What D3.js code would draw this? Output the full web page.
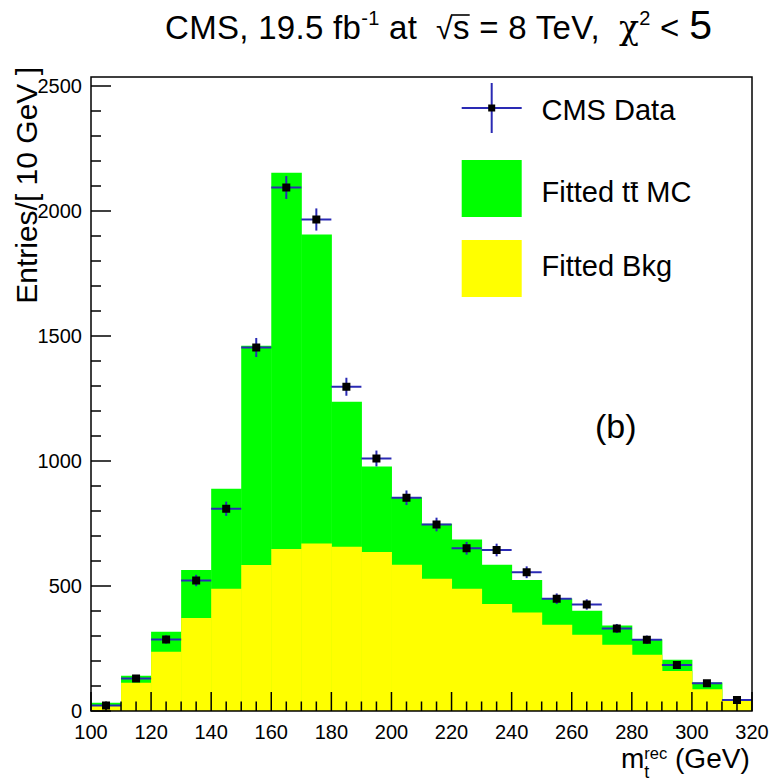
<!DOCTYPE html>
<html><head><meta charset="utf-8">
<script src="https://cdn.jsdelivr.net/npm/d3@7"></script>
<style>
html,body{margin:0;padding:0;background:#fff;}
text{font-family:"Liberation Sans",Arial,Helvetica,sans-serif;fill:#000;white-space:pre;}
</style></head>
<body><svg id="c" width="782" height="780"></svg>
<script>
// ---- data ----
const binLow = [100,110,120,130,140,150,160,170,180,190,200,210,220,230,240,250,260,270,280,290,300,310];
const binWidth = 10;
const bkg   = [21,113,237,372,489,584,648,670,657,636,585,529,489,428,394,345,305,265,225,160,87,41];
const ttbar = [12,28,80,192,400,877,1505,1236,580,342,270,220,197,157,130,105,96,77,62,45,27,3];
const data  = [22,130,286,522,809,1454,2094,1966,1297,1010,853,746,651,644,555,449,426,330,285,184,111,44];
const xTicks = [100,120,140,160,180,200,220,240,260,280,300,320];
const yTicks = [0,500,1000,1500,2000,2500];

const svg = d3.select("#c");
const L=91, R=752, T=77, B=711;
const x = d3.scaleLinear().domain([100,320]).range([L,R]);
const y = d3.scaleLinear().domain([0,2536]).range([B,T]);

const g = svg.append("g");
svg.append("clipPath").attr("id","pc").append("rect")
  .attr("x",L).attr("y",T).attr("width",R-L).attr("height",B-T);
const plot = g.append("g").attr("clip-path","url(#pc)");

// total (green) then background (yellow)
plot.selectAll("rect.tot").data(binLow).join("rect").attr("class","tot")
  .attr("x",d=>x(d)).attr("width",d=>x(d+binWidth)-x(d)+0.5)
  .attr("y",(d,i)=>y(bkg[i]+ttbar[i])).attr("height",(d,i)=>B-y(bkg[i]+ttbar[i]))
  .attr("fill","#00ff00");
plot.selectAll("rect.bkg").data(binLow).join("rect").attr("class","bkg")
  .attr("x",d=>x(d)).attr("width",d=>x(d+binWidth)-x(d)+0.5)
  .attr("y",(d,i)=>y(bkg[i])).attr("height",(d,i)=>B-y(bkg[i]))
  .attr("fill","#ffff00");

// data points
const errCol = "#2a2ab4";
const pts = plot.selectAll("g.pt").data(binLow).join("g").attr("class","pt");
pts.append("line").attr("x1",d=>x(d)).attr("x2",d=>x(d+binWidth))
  .attr("y1",(d,i)=>y(data[i])).attr("y2",(d,i)=>y(data[i]))
  .attr("stroke",errCol).attr("stroke-width",2);
pts.append("line").attr("x1",d=>x(d+binWidth/2)).attr("x2",d=>x(d+binWidth/2))
  .attr("y1",(d,i)=>y(data[i]+Math.sqrt(data[i]))).attr("y2",(d,i)=>y(data[i]-Math.sqrt(data[i])))
  .attr("stroke",errCol).attr("stroke-width",2);
pts.append("rect").attr("x",d=>x(d+binWidth/2)-4).attr("y",(d,i)=>y(data[i])-4)
  .attr("width",8).attr("height",8).attr("fill","#000");

// frame
g.append("rect").attr("x",L).attr("y",T).attr("width",R-L).attr("height",B-T)
  .attr("fill","none").attr("stroke","#000").attr("stroke-width",1.5);

// x ticks
const xMinor = d3.range(100,321,5);
g.selectAll("line.xt").data(xMinor).join("line")
  .attr("x1",d=>x(d)).attr("x2",d=>x(d)).attr("y1",B)
  .attr("y2",d=>B-(d%20===0?19:9.5)).attr("stroke","#000").attr("stroke-width",1.5);
g.selectAll("text.xl").data(xTicks).join("text")
  .attr("x",d=>x(d)).attr("y",738.5).attr("text-anchor","middle")
  .attr("font-size",20).text(d=>d);
// y ticks
const yMinor = d3.range(0,2501,100);
g.selectAll("line.yt").data(yMinor).join("line")
  .attr("y1",d=>y(d)).attr("y2",d=>y(d)).attr("x1",L)
  .attr("x2",d=>L+(d%500===0?20:10)).attr("stroke","#000").attr("stroke-width",1.5);
g.selectAll("text.yl").data(yTicks).join("text")
  .attr("x",82).attr("y",d=>y(d)+7).attr("text-anchor","end")
  .attr("font-size",20).text(d=>d);

// axis titles
g.append("text").attr("transform","translate(37,67) rotate(-90)")
  .attr("text-anchor","end").attr("font-size",30).text("Entries/[ 10 GeV ]");
const xt = g.append("text").attr("x",621).attr("y",768).attr("font-size",28);
xt.append("tspan").text("m");
xt.append("tspan").attr("font-size",18).attr("dy",9.5).text("t");
xt.append("tspan").attr("font-size",16.5).attr("dx",-5).attr("dy",-18.5).text("rec");
xt.append("tspan").attr("dy",9).text(" (GeV)");

// title
const tt = g.append("text").attr("x",165).attr("y",39).attr("font-size",33).attr("letter-spacing",0.3);
tt.append("tspan").text("CMS, 19.5 fb");
tt.append("tspan").attr("font-size",20).attr("dy",-14).text("-1");
tt.append("tspan").attr("dy",14).text(" at  ");
tt.append("tspan").attr("font-size",30).text("\u221A");
tt.append("tspan").text("s");
tt.append("tspan").text(" = 8 TeV,  ");
tt.append("tspan").attr("font-family","DejaVu Serif").text("\u03C7");
tt.append("tspan").attr("font-size",20).attr("dy",-14).text("2");
tt.append("tspan").attr("dy",14).text(" < ");
tt.append("tspan").attr("font-size",41).text("5");
// overline for sqrt
(function(){
  const node = tt.node();
  const full = node.textContent;
  const iq = full.indexOf("\u221A");
  const eq = node.getExtentOfChar(iq);
  const es = node.getExtentOfChar(iq+1);
  const topY = 39 - 24;
  g.append("line").attr("x1",eq.x+eq.width-2).attr("x2",es.x+es.width)
    .attr("y1",topY).attr("y2",topY).attr("stroke","#000").attr("stroke-width",1.6);
})();

// legend
const lx=461.7, lw=60;
g.append("line").attr("x1",lx).attr("x2",lx+lw).attr("y1",108).attr("y2",108).attr("stroke",errCol).attr("stroke-width",2);
g.append("line").attr("x1",lx+lw/2).attr("x2",lx+lw/2).attr("y1",83).attr("y2",133).attr("stroke",errCol).attr("stroke-width",2);
g.append("rect").attr("x",lx+lw/2-3.5).attr("y",104.5).attr("width",7).attr("height",7).attr("fill","#000");
g.append("rect").attr("x",lx).attr("y",160).attr("width",lw).attr("height",57).attr("fill","#00ff00");
g.append("rect").attr("x",lx).attr("y",240).attr("width",lw).attr("height",57).attr("fill","#ffff00");
g.append("text").attr("x",541.5).attr("y",119.5).attr("font-size",29).text("CMS Data");
const l2 = g.append("text").attr("x",541.5).attr("y",201.5).attr("font-size",29).text("Fitted tt MC");
(function(){
  const e = l2.node().getExtentOfChar(8);
  g.append("line").attr("x1",e.x+0.5).attr("x2",e.x+e.width-0.5)
    .attr("y1",183).attr("y2",183).attr("stroke","#000").attr("stroke-width",1.6);
})();
g.append("text").attr("x",541.5).attr("y",276).attr("font-size",29).text("Fitted Bkg");

// panel label
g.append("text").attr("x",595).attr("y",438).attr("font-size",34).attr("font-family","DejaVu Sans").text("(b)");
</script></body></html>
